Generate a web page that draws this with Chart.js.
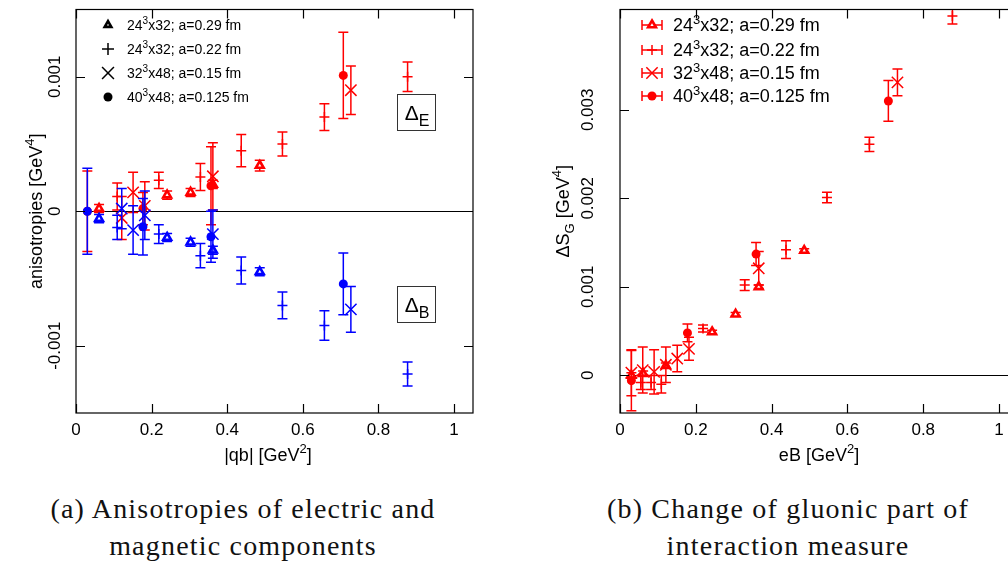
<!DOCTYPE html>
<html>
<head>
<meta charset="utf-8">
<title>Anisotropies and gluonic interaction measure</title>
<script src="https://cdn.jsdelivr.net/npm/chart.js@4.4.1/dist/chart.umd.min.js"></script>
<style>
  html, body { margin: 0; padding: 0; background: #fff; }
  #page { position: relative; width: 1008px; height: 567px; overflow: hidden; }
  .panel { position: absolute; top: 0; }
  #wrapA { left: 0; }
  #wrapB { left: 520px; }
  .caption {
    position: absolute; top: 490px; text-align: center;
    font-family: "Liberation Serif", "DejaVu Serif", serif; font-size: 28px;
    letter-spacing: 1.2px; line-height: 37px; color: #111;
  }
  #capA { left: 0; width: 486px; }
  #capB { left: 560px; width: 456px; }
</style>
</head>
<body>
<div id="page">
  <div class="panel" id="wrapA"><canvas id="chartA" width="500" height="470"></canvas></div>
  <div class="panel" id="wrapB"><canvas id="chartB" width="520" height="470"></canvas></div>
  <div class="caption" id="capA">(a) Anisotropies of electric and<br>magnetic components</div>
  <div class="caption" id="capB">(b) Change of gluonic part of<br>interaction measure</div>
</div>
<script>
// axis ticks
const xTickVals = [0, 0.2, 0.4, 0.6, 0.8, 1];
const xTickText = ['0', '0.2', '0.4', '0.6', '0.8', '1'];
const yTickValsA = [-0.001, 0, 0.001];
const yTickTextA = ['-0.001', '0', '0.001'];
const yTickValsB = [0, 0.001, 0.002, 0.003];
const yTickTextB = ['0', '0.001', '0.002', '0.003'];

// lattice labels (^ = superscript, _ = subscript)
const latticeLabels = ['24^3x32; a=0.29 fm', '24^3x32; a=0.22 fm', '32^3x48; a=0.15 fm', '40^3x48; a=0.125 fm'];

// (a) anisotropies vs |qb| — electric (E) and magnetic (B)
const qbTri = [0.061, 0.241, 0.303, 0.362, 0.486];
const elecTri = [0.00002, 0.00012, 0.00014, 0.0002, 0.00034];
const elecTriErr = [0.00003, 0.00003, 0.00003, 0.00003, 0.00004];
const magTri = [-0.000055, -0.000195, -0.00023, -0.00029, -0.00045];
const magTriErr = [0.00003, 0.00003, 0.00003, 0.00003, 0.00003];

const qbPlus = [0.109, 0.219, 0.329, 0.437, 0.546, 0.657, 0.877];
const elecPlus = [0.00011, 0.00023, 0.000255, 0.00045, 0.0005, 0.0007, 0.001];
const elecPlusErr = [0.0001, 0.00006, 0.0001, 0.00012, 0.00009, 0.0001, 0.00011];
const magPlus = [-0.00012, -0.00017, -0.00033, -0.00044, -0.0007, -0.00085, -0.00121];
const magPlusErr = [0.00009, 0.00007, 0.00009, 0.0001, 0.0001, 0.00011, 0.00009];

const qbCross = [0.121, 0.151, 0.182, 0.362, 0.727];
const elecCross = [-0.00005, 0.00014, 0.00004, 0.00026, 0.0009];
const elecCrossErr = [0.00016, 0.00015, 0.00018, 0.00025, 0.00018];
const magCross = [0.00002, -0.00014, -0.00003, -0.00017, -0.00073];
const magCrossErr = [0.00015, 0.00018, 0.00018, 0.00018, 0.00017];

const qbCirc = [0.03, 0.177, 0.357, 0.707];
const elecCirc = [0, 0.00002, 0.00019, 0.00101];
const elecCircErr = [0.0003, 0.00012, 0.00029, 0.00032];
const magCirc = [0, -0.000115, -0.00019, -0.00054];
const magCircErr = [0.00032, 0.00021, 0.00019, 0.00023];

// (b) Delta S_G vs eB
const ebTri = [0.03, 0.061, 0.121, 0.243, 0.305, 0.366, 0.486];
const sgTri = [0, 0.00002, 0.00011, 0.00049, 0.00069, 0.001, 0.00141];
const sgTriErr = [0.00003, 0.00003, 0.00003, 0.00002, 0.00002, 0.00002, 0.00002];

const ebPlus = [0.055, 0.082, 0.109, 0.219, 0.329, 0.438, 0.546, 0.658, 0.877];
const sgPlus = [-0.00008, -0.00008, -0.0001, 0.00053, 0.00102, 0.00142, 0.00201, 0.00261, 0.00406];
const sgPlusErr = [0.00008, 0.00008, 0.0001, 0.00004, 0.00006, 0.0001, 0.00006, 0.00008, 0.00009];

const ebCross = [0.03, 0.06, 0.09, 0.121, 0.151, 0.182, 0.366, 0.732];
const sgCross = [0.00003, 0.00006, 0.00004, 0.00012, 0.00019, 0.0003, 0.00121, 0.00331];
const sgCrossErr = [0.00026, 0.00026, 0.00025, 0.0002, 0.00015, 0.00013, 0.00019, 0.00015];

const ebCirc = [0.03, 0.178, 0.359, 0.708];
const sgCirc = [-0.00006, 0.00048, 0.00137, 0.0031];
const sgCircErr = [0.00034, 0.0001, 0.00013, 0.00023];

const RED = '#ff0000';
const BLUE = '#0000ff';
const FONT = '"Liberation Sans", Arial, Helvetica, sans-serif';

const markers = {
  tri:   { pointStyle: 'triangle', radius: 4.5, borderWidth: 2.6, hollow: true },
  plus:  { pointStyle: 'cross',    radius: 5,   borderWidth: 1.5 },
  cross: { pointStyle: 'crossRot', radius: 8,   borderWidth: 1.5 },
  circ:  { pointStyle: 'circle',   radius: 4.5, borderWidth: 0 }
};
const markerOrder = ['tri', 'plus', 'cross', 'circ'];

function series(xs, ys, errs, kind, color) {
  const m = markers[kind];
  return {
    data: xs.map((x, i) => ({ x: x, y: ys[i], e: errs[i] })),
    showLine: false,
    borderColor: color,
    backgroundColor: color,
    pointStyle: m.pointStyle,
    pointRadius: m.radius,
    pointHoverRadius: m.radius,
    pointBorderWidth: m.borderWidth,
    pointBackgroundColor: m.hollow ? '#fff' : color,
    pointBorderColor: color
  };
}

// split "abc^2" style strings into normal / sup / sub runs
function richParts(str) {
  const parts = [];
  for (let i = 0; i < str.length; i++) {
    const c = str[i];
    if ((c === '^' || c === '_') && i + 1 < str.length) {
      parts.push({ t: str[i + 1], k: c === '^' ? 1 : -1 });
      i++;
    } else if (parts.length && parts[parts.length - 1].k === 0) {
      parts[parts.length - 1].t += c;
    } else {
      parts.push({ t: c, k: 0 });
    }
  }
  return parts;
}

function drawRich(ctx, str, x, y, size, align, angle, small) {
  const parts = richParts(str);
  const sm = small || 0.74;
  const fontOf = k => (k === 0 ? size : Math.round(size * sm)) + 'px ' + FONT;
  let total = 0;
  parts.forEach(p => { ctx.font = fontOf(p.k); p.w = ctx.measureText(p.t).width; total += p.w; });
  ctx.save();
  ctx.translate(x, y);
  if (angle) ctx.rotate(angle);
  ctx.textBaseline = 'alphabetic';
  ctx.textAlign = 'left';
  let cx = align === 'center' ? -total / 2 : (align === 'right' ? -total : 0);
  parts.forEach(p => {
    ctx.font = fontOf(p.k);
    const dy = p.k === 1 ? -size * 0.42 : (p.k === -1 ? size * 0.27 : 0);
    ctx.fillText(p.t, cx, dy);
    cx += p.w;
  });
  ctx.restore();
}

function drawMarker(ctx, kind, color, x, y, scale) {
  const m = markers[kind];
  const s = scale || 1;
  ctx.save();
  ctx.strokeStyle = color;
  ctx.fillStyle = m.hollow ? '#fff' : color;
  ctx.lineWidth = m.borderWidth || 1;
  Chart.helpers.drawPoint(ctx, {
    pointStyle: m.pointStyle, radius: m.radius * s, rotation: 0, borderWidth: m.borderWidth
  }, x, y);
  ctx.restore();
}

// zero line + vertical error bars drawn under each dataset's markers
const errorBars = {
  id: 'errorBars',
  beforeDatasetsDraw(chart) {
    const { ctx, chartArea: a, scales: { y } } = chart;
    const y0 = Math.round(y.getPixelForValue(0)) + 0.5;
    ctx.save();
    ctx.strokeStyle = '#000';
    ctx.lineWidth = 1.2;
    ctx.beginPath();
    ctx.moveTo(a.left, y0);
    ctx.lineTo(a.right, y0);
    ctx.stroke();
    ctx.restore();
  },
  beforeDatasetDraw(chart, args) {
    const { ctx, chartArea: a, scales: { x, y } } = chart;
    const ds = chart.data.datasets[args.index];
    ctx.save();
    ctx.beginPath();
    ctx.rect(a.left, a.top, a.right - a.left, a.bottom - a.top);
    ctx.clip();
    ctx.strokeStyle = ds.borderColor;
    ctx.lineWidth = 1.5;
    ds.data.forEach(p => {
      const px = x.getPixelForValue(p.x);
      const top = y.getPixelForValue(p.y + p.e);
      const bot = y.getPixelForValue(p.y - p.e);
      ctx.beginPath();
      ctx.moveTo(px, top); ctx.lineTo(px, bot);
      ctx.moveTo(px - 5, top); ctx.lineTo(px + 5, top);
      ctx.moveTo(px - 5, bot); ctx.lineTo(px + 5, bot);
      ctx.stroke();
    });
    ctx.restore();
  }
};

// gnuplot-like frame: border, inward ticks, labels, key, tags
function makeFrame(cfg) {
  return {
    id: 'frame',
    afterDraw(chart) {
      const { ctx, chartArea: a, scales: { x, y } } = chart;
      const tick = 9;
      ctx.save();
      ctx.strokeStyle = '#000';
      ctx.lineWidth = 1.2;
      ctx.strokeRect(a.left, a.top, a.right - a.left, a.bottom - a.top);
      ctx.beginPath();
      xTickVals.forEach(v => {
        const px = Math.round(x.getPixelForValue(v)) + 0.5;
        ctx.moveTo(px, a.bottom); ctx.lineTo(px, a.bottom - tick);
        ctx.moveTo(px, a.top); ctx.lineTo(px, a.top + tick);
      });
      cfg.yTicks.forEach(v => {
        const py = Math.round(y.getPixelForValue(v)) + 0.5;
        ctx.moveTo(a.left, py); ctx.lineTo(a.left + tick, py);
        ctx.moveTo(a.right, py); ctx.lineTo(a.right - tick, py);
      });
      ctx.stroke();

      ctx.fillStyle = '#000';
      xTickVals.forEach((v, i) => {
        drawRich(ctx, xTickText[i], x.getPixelForValue(v), 435, 17, 'center');
      });
      cfg.yTicks.forEach((v, i) => {
        drawRich(ctx, cfg.yText[i], cfg.yLabelX, y.getPixelForValue(v), 17, 'center', -Math.PI / 2);
      });
      drawRich(ctx, cfg.xTitle, cfg.xTitleX, 461, 18, 'center');
      drawRich(ctx, cfg.yTitle, cfg.yTitleX, (a.top + a.bottom) / 2, 18, 'center', -Math.PI / 2);

      // key
      const k = cfg.key;
      markerOrder.forEach((kind, i) => {
        const ry = k.rows[i];
        if (k.whiskers) {
          ctx.save();
          ctx.strokeStyle = k.color;
          ctx.lineWidth = 1.5;
          ctx.beginPath();
          ctx.moveTo(k.symX - 10, ry); ctx.lineTo(k.symX + 10, ry);
          ctx.moveTo(k.symX - 10, ry - 5); ctx.lineTo(k.symX - 10, ry + 5);
          ctx.moveTo(k.symX + 10, ry - 5); ctx.lineTo(k.symX + 10, ry + 5);
          ctx.stroke();
          ctx.restore();
        }
        drawMarker(ctx, kind, k.color, k.symX, ry, k.scale[i]);
        ctx.fillStyle = '#000';
        drawRich(ctx, latticeLabels[i], k.textX, ry + k.size * 0.36, k.size, 'left', 0, 0.72);
      });

      // boxed tags
      (cfg.tags || []).forEach(t => {
        ctx.strokeStyle = '#333';
        ctx.lineWidth = 1;
        ctx.strokeRect(t.x + 0.5, t.y + 0.5, t.w, t.h);
        ctx.fillStyle = '#000';
        drawRich(ctx, t.text, t.x + t.w / 2 + 1, t.y + t.h - 10, 21, 'center', 0, 0.78);
      });
      ctx.restore();
    }
  };
}

function baseOptions(yMin, yMax, pad) {
  return {
    responsive: false,
    animation: false,
    devicePixelRatio: 1,
    layout: { padding: pad },
    plugins: { legend: { display: false }, tooltip: { enabled: false } },
    scales: {
      x: { type: 'linear', display: false, min: 0, max: 1.05 },
      y: { type: 'linear', display: false, min: yMin, max: yMax }
    }
  };
}

function initCharts() {
  // panel (a): blue first so it sits on top
  new Chart(document.getElementById('chartA'), {
    type: 'scatter',
    data: {
      datasets: [
        series(qbCirc, magCirc, magCircErr, 'circ', BLUE),
        series(qbCross, magCross, magCrossErr, 'cross', BLUE),
        series(qbPlus, magPlus, magPlusErr, 'plus', BLUE),
        series(qbTri, magTri, magTriErr, 'tri', BLUE),
        series(qbCirc, elecCirc, elecCircErr, 'circ', RED),
        series(qbCross, elecCross, elecCrossErr, 'cross', RED),
        series(qbPlus, elecPlus, elecPlusErr, 'plus', RED),
        series(qbTri, elecTri, elecTriErr, 'tri', RED)
      ]
    },
    options: baseOptions(-0.0015, 0.0015, { left: 76, top: 3, right: 27, bottom: 57 }),
    plugins: [errorBars, makeFrame({
      yTicks: yTickValsA, yText: yTickTextA, yLabelX: 60,
      xTitle: '|qb| [GeV^2]', xTitleX: 268,
      yTitle: 'anisotropies [GeV^4]', yTitleX: 42,
      key: { color: '#000', whiskers: false, symX: 108, textX: 127, rows: [25, 49, 73, 97], size: 14, scale: [0.85, 1.2, 1.05, 1] },
      tags: [
        { text: 'Δ_E', x: 397, y: 94, w: 38, h: 36 },
        { text: 'Δ_B', x: 397, y: 286, w: 38, h: 36 }
      ]
    })]
  });

  // panel (b)
  new Chart(document.getElementById('chartB'), {
    type: 'scatter',
    data: {
      datasets: [
        series(ebCirc, sgCirc, sgCircErr, 'circ', RED),
        series(ebCross, sgCross, sgCrossErr, 'cross', RED),
        series(ebPlus, sgPlus, sgPlusErr, 'plus', RED),
        series(ebTri, sgTri, sgTriErr, 'tri', RED)
      ]
    },
    options: baseOptions(-0.000425, 0.004133, { left: 100, top: 3, right: 22, bottom: 57 }),
    plugins: [errorBars, makeFrame({
      yTicks: yTickValsB, yText: yTickTextB, yLabelX: 73,
      xTitle: 'eB [GeV^2]', xTitleX: 299,
      yTitle: 'ΔS_G [GeV^4]', yTitleX: 49,
      key: { color: RED, whiskers: true, symX: 132, textX: 153, rows: [25, 50, 73, 96], size: 18, scale: [1, 1, 1, 1] }
    })]
  });
}

document.addEventListener('DOMContentLoaded', initCharts);
</script>
</body>
</html>
